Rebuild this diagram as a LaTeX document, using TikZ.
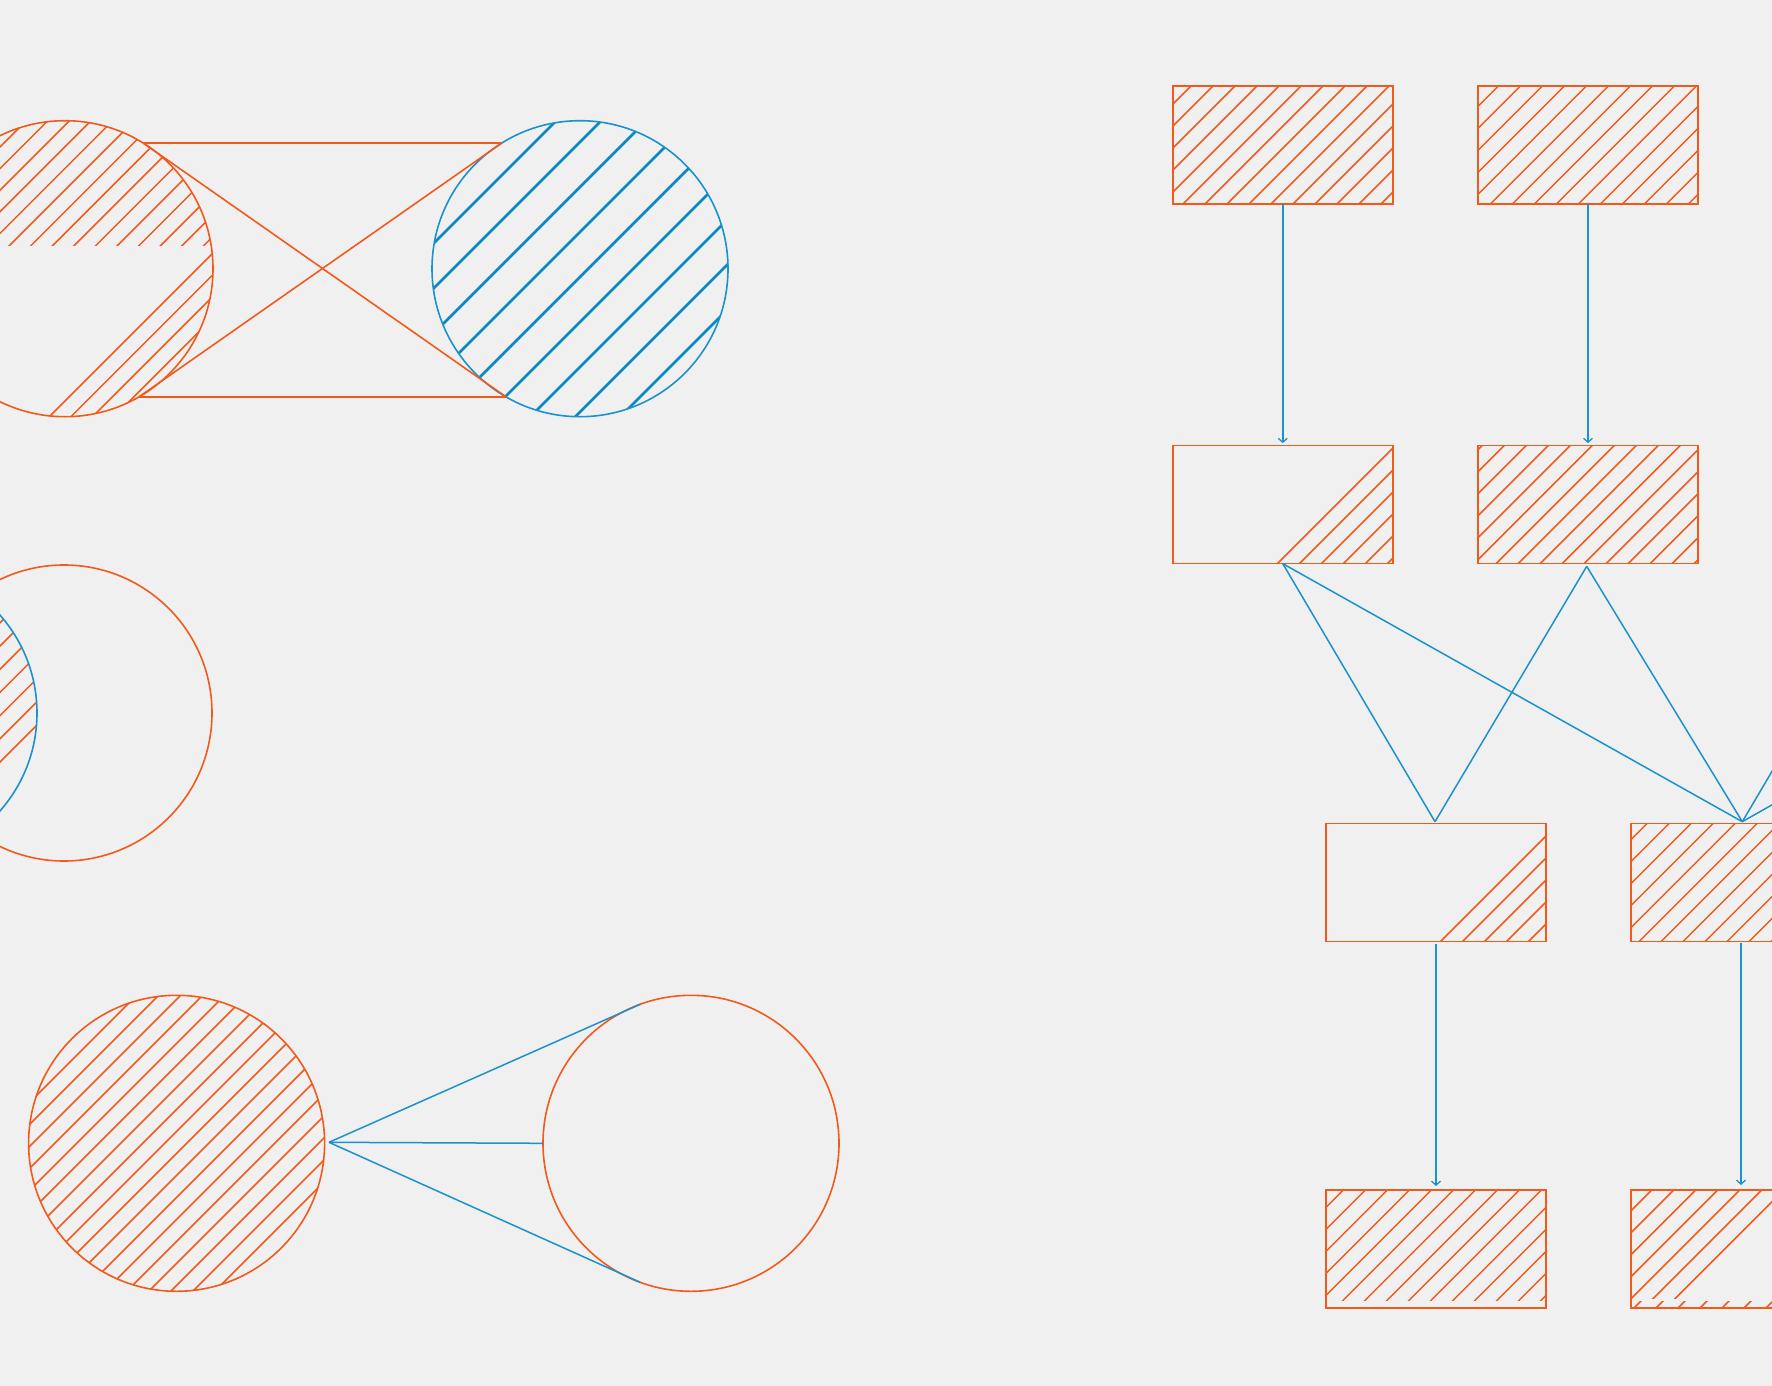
\documentclass[tikz,border=0pt]{standalone}
\usetikzlibrary{arrows.meta}
\definecolor{bg}{RGB}{240,240,240}
\definecolor{org}{RGB}{242,90,28}
\definecolor{blu}{RGB}{28,146,204}
\definecolor{bludark}{RGB}{10,136,196}
\newcommand\hatchset[5]{%
  \foreach \k in {0,...,#3}{\draw ({#1+\k*#2-(#4)},#4) -- ({#1+\k*#2-(#5)},#5);}}
\begin{document}
\begin{tikzpicture}[x=1pt,y=-1pt,
  outl/.style={draw=org,line width=1.6pt},
  ring/.style={outl,circle,minimum size=296pt,inner sep=0pt,outer sep=0pt},
  bring/.style={draw=blu,line width=1.6pt,circle,minimum size=296pt,inner sep=0pt,outer sep=0pt},
  boxs/.style={outl,rectangle,minimum width=220pt,minimum height=118pt,inner sep=0pt,outer sep=0pt},
  hl/.style={org,line width=1.5pt},
  bhl/.style={bludark,line width=2.8pt},
  conn/.style={blu,line width=1.5pt},
  arr/.style={conn,-{Straight Barb[length=4pt,width=9pt,line width=1.3pt]}},
  xline/.style={org,line width=1.6pt}]
\useasboundingbox (0,0) rectangle (1772,1386);
\fill[bg] (0,0) rectangle (1772,1386);
\clip (0,0) rectangle (1772,1386);

% ---------- top-left pair of circles ----------
\begin{scope}
  \clip (65,268.7) circle (148pt);
  \begin{scope}
    \clip (-100,100) rectangle (300,245.5);
    \begin{scope}[hl]\hatchset{-90.6}{21.6}{25}{100}{430}\end{scope}
  \end{scope}
  \begin{scope}[hl]\hatchset{466}{21.6}{3}{100}{430}\end{scope}
\end{scope}
\begin{scope}
  \clip (580,268.7) circle (148pt);
  \begin{scope}[bhl]\hatchset{677}{45}{8}{100}{430}\end{scope}
\end{scope}
\node[ring] (L1) at (65,268.7) {};
\node[bring] (R1) at (580,268.7) {};
\draw[xline] (L1.58) -- (R1.122.7);
\draw[xline] (L1.-60.2) -- (R1.-120.3);
\draw[xline] (L1.58) -- (R1.-120.3);
\draw[xline] (R1.122.7) -- (L1.-60.2);

% ---------- middle-left circles ----------
\begin{scope}
  \clip (-111,713) circle (148pt);
  \begin{scope}[hl]\hatchset{762}{-23.2}{16}{540}{890}\end{scope}
\end{scope}
\node[ring] (L2) at (64,713) {};
\node[bring] (B2) at (-111,713) {};

% ---------- bottom-left circles ----------
\begin{scope}
  \clip (176.6,1143.3) circle (148pt);
  \begin{scope}[hl]\hatchset{1132}{22}{17}{990}{1300}\end{scope}
\end{scope}
\node[ring] (L3) at (176.6,1143.3) {};
\node[ring] (R3) at (691,1143.3) {};
\coordinate (apex) at (329,1142.3);
\draw[conn] (apex) -- (R3.110.5);
\draw[conn] (apex) -- (R3.-110.5);
\draw[conn] (apex) -- (R3.west);

% ---------- boxes ----------
\node[boxs] (A) at (1282.75,144.85) {};
\node[boxs] (B) at (1588,144.85) {};
\node[boxs] (C) at (1282.75,504.65) {};
\node[boxs] (D) at (1588,504.65) {};
\node[boxs] (E) at (1436,882.3) {};
\node[boxs] (F) at (1741,882.3) {};
\node[boxs] (G) at (1436,1249) {};
\node[boxs] (H) at (1741,1249) {};

\begin{scope}\clip (A.south west) rectangle (A.north east);
  \begin{scope}[hl]\hatchset{1255}{22}{15}{80}{210}\end{scope}\end{scope}
\begin{scope}\clip (B.south west) rectangle (B.north east);
  \begin{scope}[hl]\hatchset{1562.4}{22}{15}{80}{210}\end{scope}\end{scope}
\begin{scope}\clip (C.south west) rectangle (C.north east);
  \begin{scope}[hl]\hatchset{1841}{22}{5}{440}{570}\end{scope}\end{scope}
\begin{scope}\clip (D.south west) rectangle (D.north east);
  \begin{scope}[hl]\hatchset{1927.7}{22}{15}{440}{570}\end{scope}\end{scope}
\begin{scope}\clip (E.south west) rectangle (E.north east);
  \begin{scope}[hl]\hatchset{2382}{22}{4}{815}{950}\end{scope}\end{scope}
\begin{scope}\clip (F.south west) rectangle (F.north east);
  \begin{scope}[hl]\hatchset{2448.6}{22}{16}{815}{950}\end{scope}\end{scope}
\begin{scope}\clip (1326,1190) rectangle (1546,1300);
  \begin{scope}[hl]\hatchset{2511.3}{22}{15}{1185}{1305}\end{scope}\end{scope}
\begin{scope}\clip (1631,1190) rectangle (1851,1298.5);
  \begin{scope}[hl]\hatchset{2819.7}{22}{7}{1185}{1305}\end{scope}\end{scope}
\begin{scope}\clip (1631,1301) rectangle (1851,1308);
  \begin{scope}[hl]\hatchset{2810}{22}{16}{1295}{1315}\end{scope}\end{scope}

% redraw box outlines on top
\foreach \n in {A,B,C,D,E,F,G,H}{\draw[outl] (\n.south west) rectangle (\n.north east);}

% ---------- arrows ----------
\draw[arr,shorten >=2.5pt] (A.south) -- (C.north);
\draw[arr,shorten >=2.5pt] (B.south) -- (D.north);
\draw[arr,shorten <=3pt,shorten >=4pt] (E.south) -- (G.north);
\draw[arr,shorten <=2pt,shorten >=5pt] (F.south) -- (H.north);

% ---------- crossing connectors ----------
\coordinate (Etop) at ([xshift=-1pt,yshift=1.6pt]E.north);
\coordinate (Ftop) at ([xshift=1.3pt,yshift=1.6pt]F.north);
\coordinate (Cb) at (C.south);
\coordinate (Db) at ([xshift=-1.3pt,yshift=-2.7pt]D.south);
\coordinate (K3) at (1893,566);
\coordinate (K4) at (2197,563.3);
\draw[conn] (Cb) -- (Etop);
\draw[conn] (Cb) -- (Ftop);
\draw[conn] (Db) -- (Etop);
\draw[conn] (Db) -- (Ftop);
\draw[conn] (K3) -- (Ftop);
\draw[conn] (K4) -- (Ftop);
\end{tikzpicture}
\end{document}
